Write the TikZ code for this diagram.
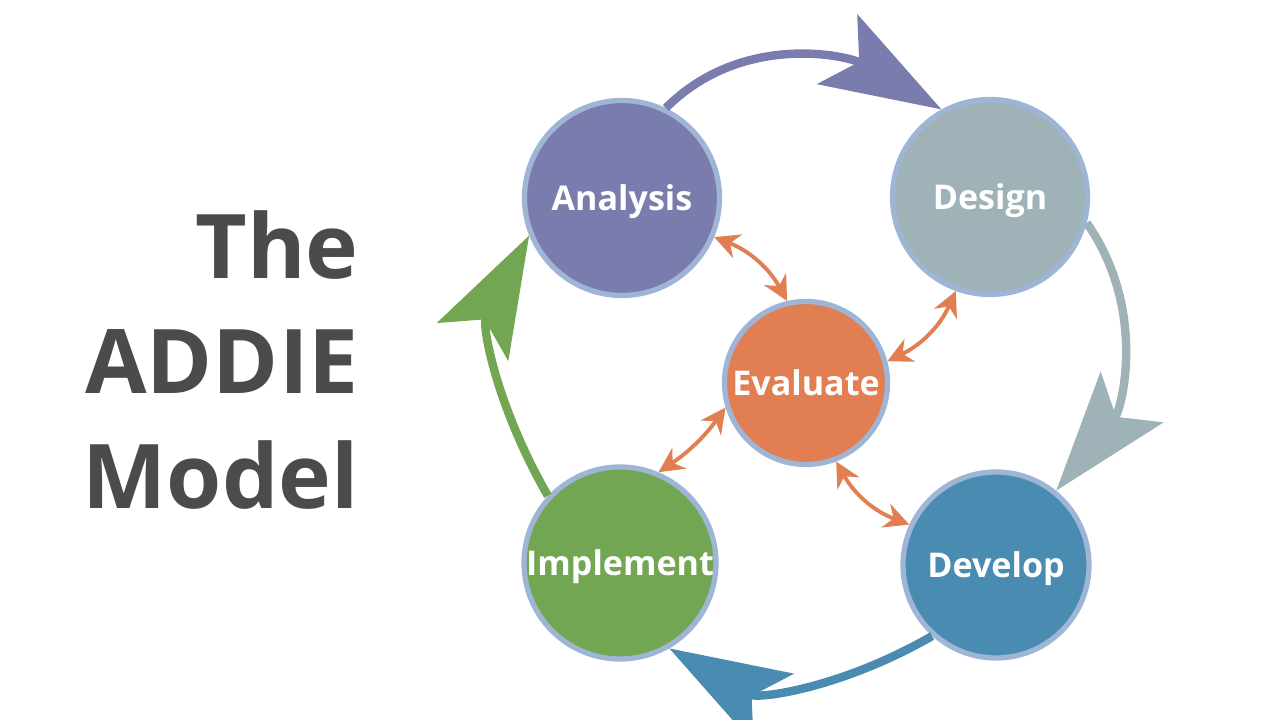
\documentclass[tikz,border=0pt]{standalone}
\usepackage{fontspec}
\setmainfont{Open Sans}
\usetikzlibrary{arrows.meta}

\definecolor{analysisc}{HTML}{7B7CAE}
\definecolor{designc}{HTML}{9FB2B8}
\definecolor{evaluatec}{HTML}{E17E52}
\definecolor{implementc}{HTML}{73A652}
\definecolor{developc}{HTML}{4A8CB1}
\definecolor{ringc}{HTML}{9EB5D6}
\definecolor{titlec}{HTML}{4B4B4B}

\begin{document}
\begin{tikzpicture}[
  stage/.style={circle, draw=ringc, line width=1.5pt, minimum size=1.95cm,
    inner sep=0pt, text=white, text height=0.71em, text depth=0pt,
    font=\fontsize{9.7}{11}\selectfont\bfseries},
  cycle/.style={line width=2.4pt, -{Stealth[length=12mm, width=8mm, inset=2.5mm]}},
  feedback/.style={evaluatec, line width=1.1pt,
    {Stealth[length=2.5mm, width=2.5mm]}-{Stealth[length=2.5mm, width=2.5mm]}},
  heading/.style={align=right, text=titlec,
    font=\fontsize{25.4}{32.8}\selectfont\bfseries}
]
\useasboundingbox (0,0) rectangle (12.8,7.2);

\node[heading, anchor=east] (title) at (3.71,3.6) {The\\ADDIE\\Model};

\node[stage, fill=analysisc] (analysis) at (6.22,5.22) {Analysis};
\node[stage, fill=designc] (design) at (9.90,5.23) {Design};
\node[stage, fill=evaluatec, minimum size=1.63cm] (evaluate) at (8.06,3.37) {Evaluate};
\node[stage, fill=implementc, minimum size=1.92cm] (implement) at (6.20,1.57) {Implement};
\node[stage, fill=developc, minimum size=1.86cm] (develop) at (9.96,1.55) {Develop};

% outer cycle
\draw[cycle, analysisc] (analysis.64) to[out=45, in=150] (design.119);
\draw[cycle, designc] (design.-15) to[out=-55, in=51] (develop.51);
\draw[cycle, developc] (develop.-132) to[out=-150, in=-30] (implement.-60);
\draw[cycle, implementc] (implement.137) to[out=120, in=-118] (analysis.-158);

% evaluation links
\draw[feedback] (analysis.-23) to[bend left=20] (evaluate.103);
\draw[feedback] (evaluate.15) to[bend right=20] (design.-110);
\draw[feedback] (evaluate.-69) to[bend right=20] (develop.155);
\draw[feedback] (evaluate.197) to[bend left=10] (implement.67);

\end{tikzpicture}
\end{document}
